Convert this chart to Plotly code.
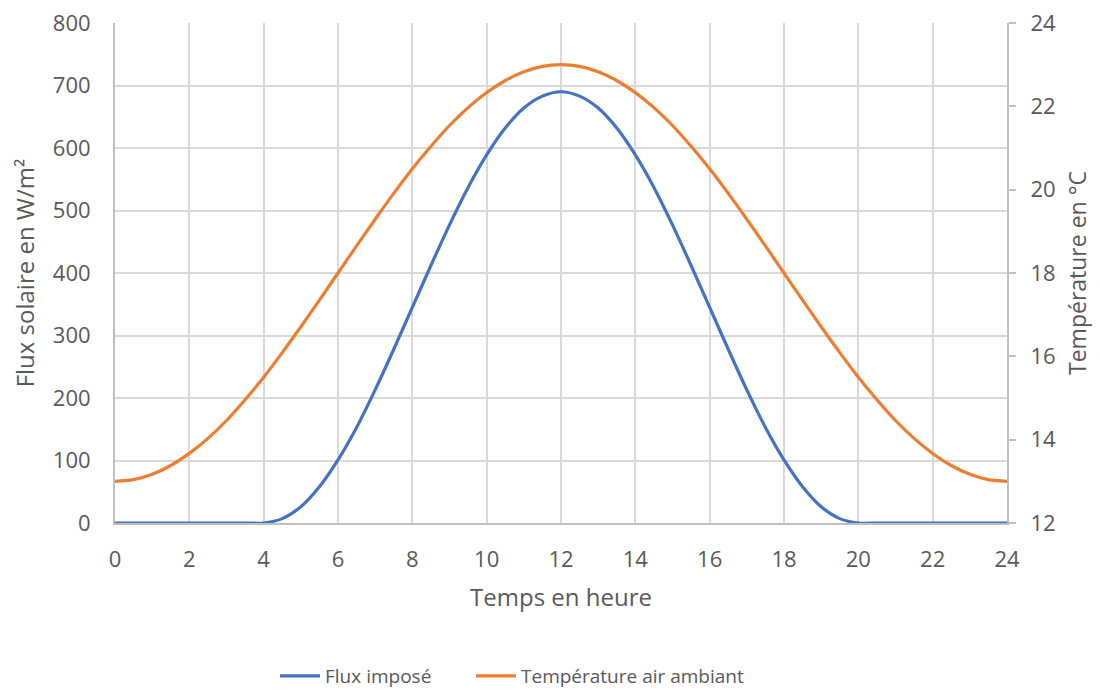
import plotly.graph_objects as go

hours = [0, 0.5, 1, 1.5, 2, 2.5, 3, 3.5, 4, 4.5, 5, 5.5, 6, 6.5, 7, 7.5, 8, 8.5, 9, 9.5, 10, 10.5, 11, 11.5,
         12, 12.5, 13, 13.5, 14, 14.5, 15, 15.5, 16, 16.5, 17, 17.5, 18, 18.5, 19, 19.5, 20, 20.5, 21, 21.5,
         22, 22.5, 23, 23.5, 24]

flux = [0, 0, 0, 0, 0, 0, 0, 0, 0, 7, 26, 58, 101, 153, 213, 278, 345, 412, 477, 537, 589, 632, 664, 683,
        690, 683, 664, 632, 589, 537, 477, 412, 345, 278, 213, 153, 101, 58, 26, 7, 0, 0, 0, 0,
        0, 0, 0, 0, 0]

temp = [13.00, 13.04, 13.17, 13.38, 13.67, 14.03, 14.46, 14.96, 15.50, 16.09, 16.71, 17.35, 18.00,
        18.65, 19.29, 19.91, 20.50, 21.04, 21.54, 21.97, 22.33, 22.62, 22.83, 22.96, 23.00,
        22.96, 22.83, 22.62, 22.33, 21.97, 21.54, 21.04, 20.50, 19.91, 19.29, 18.65, 18.00,
        17.35, 16.71, 16.09, 15.50, 14.96, 14.46, 14.03, 13.67, 13.38, 13.17, 13.04, 13.00]

x_ticks = list(range(0, 25, 2))
font_family = "Open Sans, Segoe UI, sans-serif"
txt = "#595959"
grid = "#D9D9D9"
axis_line = "#BFBFBF"
W, H = 1092, 683

fig = go.Figure()
fig.add_trace(go.Scatter(x=hours, y=flux, mode="lines", name="Flux imposé", legend="legend",
                         line=dict(color="#4472C4", width=3.2, shape="spline", smoothing=0.8)))
fig.add_trace(go.Scatter(x=hours, y=temp, mode="lines", name="Température air ambiant", yaxis="y2",
                         legend="legend2",
                         line=dict(color="#ED7D31", width=3.2, shape="spline", smoothing=0.8)))

legend_common = dict(orientation="h", xref="container", yref="container", xanchor="left",
                     y=1 - 668 / H, yanchor="middle", font=dict(size=19, color=txt), itemwidth=40,
                     bgcolor="rgba(0,0,0,0)")

fig.update_layout(
    width=W, height=H,
    margin=dict(l=107, r=93, t=15, b=168),
    paper_bgcolor="white", plot_bgcolor="white",
    font=dict(family=font_family, color=txt, size=19),
    xaxis=dict(range=[0, 24], tickvals=x_ticks, showgrid=True, gridcolor=grid, gridwidth=2,
               showline=True, linecolor=axis_line, linewidth=2, zeroline=False, ticks="",
               automargin=False, ticklabelstandoff=16, ticklabeloverflow="allow",
               title=dict(text="Temps en heure", font=dict(size=24, color=txt), standoff=17),
               tickfont=dict(size=22, color=txt)),
    yaxis=dict(range=[0, 800], dtick=100, showgrid=True, gridcolor=grid, gridwidth=2,
               showline=True, linecolor=axis_line, linewidth=2, zeroline=False, ticks="",
               automargin=False, ticklabelstandoff=18, ticklabeloverflow="allow",
               title=dict(text="Flux solaire en W/m²", font=dict(size=24, color=txt), standoff=16),
               tickfont=dict(size=22, color=txt)),
    yaxis2=dict(range=[12, 24], dtick=2, overlaying="y", side="right", showgrid=False,
                showline=True, linecolor=axis_line, linewidth=2, zeroline=False,
                ticks="outside", ticklen=7, tickcolor=axis_line, tickwidth=2,
                automargin=False, ticklabelstandoff=10, ticklabeloverflow="allow",
                title=dict(text="Température en °C", font=dict(size=23, color=txt), standoff=15),
                tickfont=dict(size=22, color=txt)),
    legend=dict(legend_common, x=267 / W),
    legend2=dict(legend_common, x=463 / W),
    showlegend=True,
)

fig.write_html("out.html")
